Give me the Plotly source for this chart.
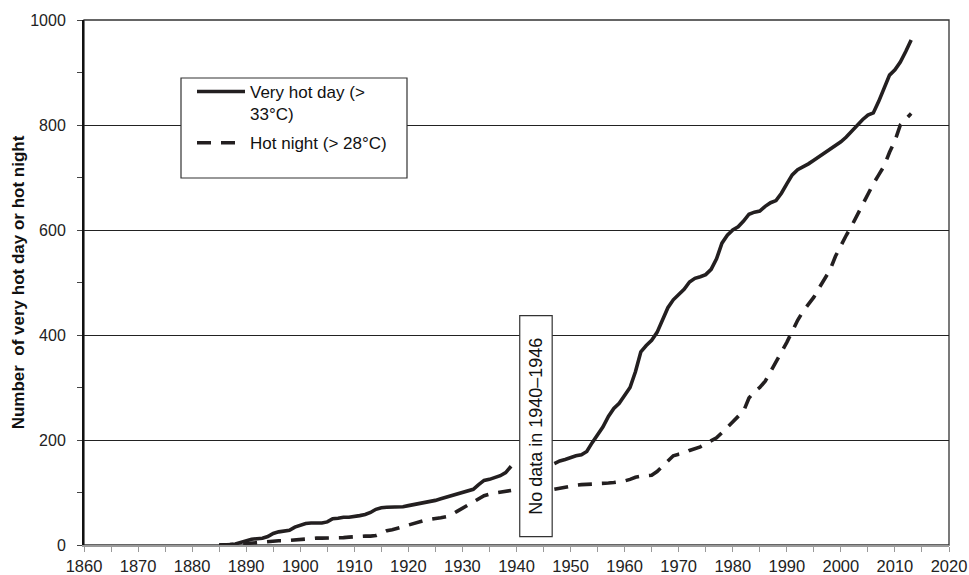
import plotly.graph_objects as go

# ---- data -------------------------------------------------------------
years_a = list(range(1885, 1940))
years_b = list(range(1947, 2014))

hot_day_a = [0, 0, 1, 2, 5, 9, 11, 12, 13, 16, 22, 25, 26, 28, 34, 38, 41, 42, 42, 42,
             44, 50, 51, 53, 53, 54, 56, 58, 62, 68, 71, 72, 72, 72, 73, 75, 77, 78, 80, 83,
             85, 88, 91, 95, 98, 100, 103, 106, 115, 123, 125, 128, 132, 138, 150]
hot_day_b = [155, 160, 163, 167, 170, 172, 178, 195, 210, 225, 245, 260, 270, 285, 300, 330,
             368, 380, 390, 405, 430, 452, 467, 476, 487, 501, 508, 511, 515, 525, 545, 575,
             590, 600, 606, 617, 630, 634, 636, 645, 652, 656, 670, 688, 705, 715, 720, 726,
             733, 740, 746, 752, 760, 768, 777, 788, 800, 810, 819, 823, 845, 872, 895, 905,
             920, 940, 962]

hot_night_a = [0, 0, 0, 1, 2, 3, 4, 4, 5, 6, 7, 8, 8, 9, 10, 11, 12, 13, 13, 13,
               13, 13, 13, 14, 15, 16, 17, 17, 17, 18, 22, 27, 29, 32, 36, 39, 42, 45, 47, 49,
               50, 52, 54, 58, 64, 70, 75, 82, 88, 94, 97, 99, 101, 103, 104]
hot_night_b = [106, 108, 111, 113, 114, 115, 115, 116, 117, 117, 118, 119, 120, 122, 125, 129,
               131, 132, 133, 140, 150, 162, 170, 173, 175, 180, 184, 187, 193, 198, 204, 214,
               225, 234, 245, 255, 280, 292, 300, 312, 330, 348, 366, 386, 407, 428, 445, 458,
               472, 490, 508, 524, 550, 572, 590, 608, 628, 650, 670, 688, 705, 722, 748, 770,
               800, 812, 822]

years = years_a + [None] + years_b
hot_day = hot_day_a + [None] + hot_day_b
hot_night = hot_night_a + [None] + hot_night_b

x_ticks = list(range(1860, 2021, 10))
y_ticks = [0, 200, 400, 600, 800, 1000]

FONT = "Liberation Sans, Arial, sans-serif"
INK = "#231f20"

fig = go.Figure()
fig.add_trace(go.Scatter(
    x=years, y=hot_day, mode="lines", name="Very hot day (><br>33°C)",
    line=dict(color=INK, width=3.6), connectgaps=False, legendgroup="a"))
fig.add_trace(go.Scatter(
    x=years, y=hot_night, mode="lines", name="Hot night (> 28°C)",
    line=dict(color=INK, width=3.6, dash="14px,10px"), connectgaps=False, legendgroup="b"))

# annotation box "No data"
fig.add_shape(type="rect", xref="x", yref="y", x0=1940.6, x1=1946.6, y0=16, y1=437,
              fillcolor="white", line=dict(color="#333", width=1.2), layer="above")
fig.add_annotation(x=1943.6, y=227, xref="x", yref="y", text="No data in 1940–1946",
                   textangle=-90, showarrow=False,
                   font=dict(family=FONT, size=18, color="#111"))

# legend box
fig.add_shape(type="rect", xref="paper", yref="paper",
              x0=(181 - 84) / 865, x1=(407 - 84) / 865,
              y0=(545 - 178) / 525, y1=(545 - 78) / 525,
              fillcolor="white", line=dict(color="#333", width=1.2), layer="above")

# plot frame
fig.add_shape(type="rect", xref="paper", yref="paper", x0=0, x1=1, y0=0, y1=1,
              line=dict(color="#333", width=1.3), layer="below")

fig.update_layout(
    width=969, height=575,
    margin=dict(l=84, r=20, t=20, b=30, autoexpand=False),
    paper_bgcolor="white", plot_bgcolor="white",
    font=dict(family=FONT, color="#111"),
    showlegend=True,
    legend=dict(x=(192 - 84) / 865, y=(545 - 74) / 525, xanchor="left", yanchor="top",
                bgcolor="rgba(0,0,0,0)", borderwidth=0,
                font=dict(family=FONT, size=17, color="#111"),
                itemwidth=48, valign="top", tracegroupgap=4, traceorder="grouped"),
    xaxis=dict(range=[1860, 2020], tickvals=x_ticks, ticktext=[str(v) for v in x_ticks],
               automargin=False,
               ticks="outside", ticklen=5, tickcolor="#999", tickwidth=1.2,
               showline=True, linecolor="#999", linewidth=1.5,
               showgrid=False, zeroline=False,
               minor=dict(dtick=5, tick0=1860, ticks="outside", ticklen=5, tickcolor="#999",
                          tickwidth=1.2, showgrid=False),
               tickfont=dict(family=FONT, size=16.5, color="#222")),
    yaxis=dict(range=[0, 1000], tickvals=y_ticks, ticktext=[str(v) for v in y_ticks],
               automargin=False,
               ticks="outside", ticklen=5, tickcolor="#444", tickwidth=1.2,
               showline=True, linecolor="#111", linewidth=2,
               showgrid=True, gridcolor="#222", gridwidth=1, zeroline=False,
               minor=dict(dtick=100, tick0=0, ticks="outside", ticklen=5, tickcolor="#444",
                          tickwidth=1.2, showgrid=False),
               ticklabelstandoff=8,
               tickfont=dict(family=FONT, size=16, color="#222"),
               title=dict(text="<b>Number  of very hot day or hot night</b>", standoff=1,
                          font=dict(family=FONT, size=17, color="#111"))),
)

fig.write_html(
    "out.html",
    config={"displayModeBar": False},
    post_script="document.body.style.margin='0';document.body.style.overflow='hidden';",
)
